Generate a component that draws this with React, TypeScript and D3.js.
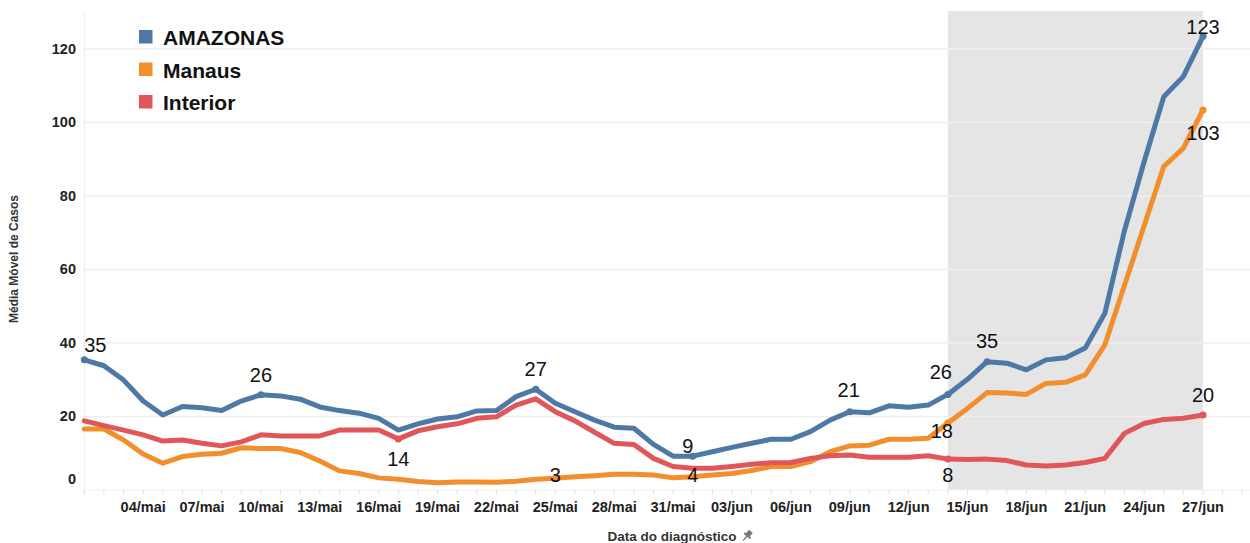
import React from 'react';
import * as d3 from 'd3';

// daily moving average, 01/mai .. 27/jun
const startDate = new Date(Date.UTC(2020, 4, 1));
const monthNames = ['jan', 'fev', 'mar', 'abr', 'mai', 'jun', 'jul', 'ago', 'set', 'out', 'nov', 'dez'];

const amazonas = [
  35.4, 33.8, 29.9, 24.2, 20.4, 22.7, 22.4, 21.6, 24.2, 25.9,
  25.6, 24.7, 22.6, 21.6, 20.9, 19.5, 16.3, 18.0, 19.3, 19.9,
  21.5, 21.6, 25.4, 27.4, 23.6, 21.3, 19.0, 17.1, 16.8, 12.4,
  9.2, 9.2, 10.4, 11.6, 12.7, 13.8, 13.8, 15.9, 19.0, 21.3,
  21.0, 22.9, 22.5, 23.1, 26.0, 30.1, 34.9, 34.5, 32.7, 35.4,
  36.0, 38.6, 48.1, 70.6, 89.3, 107.0, 112.5, 123.4,
];
const manaus = [
  16.6, 16.6, 13.6, 9.8, 7.3, 9.1, 9.7, 10.0, 11.5, 11.3,
  11.3, 10.2, 7.9, 5.2, 4.5, 3.3, 2.9, 2.3, 2.0, 2.2,
  2.2, 2.1, 2.4, 2.9, 3.2, 3.6, 3.9, 4.3, 4.3, 4.1,
  3.3, 3.6, 4.1, 4.5, 5.3, 6.4, 6.4, 7.7, 10.4, 12.0,
  12.2, 13.8, 13.8, 14.1, 18.2, 22.2, 26.5, 26.4, 26.0, 29.0,
  29.3, 31.3, 39.5, 55.7, 71.9, 88.0, 93.0, 103.4,
];
const interior = [
  18.8, 17.5, 16.3, 15.0, 13.3, 13.6, 12.7, 12.0, 13.1, 15.0,
  14.7, 14.7, 14.7, 16.3, 16.3, 16.3, 13.9, 16.1, 17.2, 18.0,
  19.5, 19.9, 23.1, 24.8, 21.3, 18.8, 15.7, 12.7, 12.4, 8.6,
  6.4, 5.9, 5.9, 6.4, 7.0, 7.4, 7.5, 8.6, 9.3, 9.5,
  8.9, 8.9, 8.9, 9.3, 8.4, 8.3, 8.4, 8.0, 6.8, 6.5,
  6.8, 7.5, 8.6, 15.4, 18.1, 19.2, 19.5, 20.4,
];

const series = [
  { name: 'AMAZONAS', values: amazonas, color: '#4e79a7' },
  { name: 'Manaus', values: manaus, color: '#f28e2b' },
  { name: 'Interior', values: interior, color: '#e15759' },
];

// labelled points: series index, day index, label offset
const annotations = [
  { s: 0, d: 0, dx: 11, dy: -15 },
  { s: 0, d: 9, dx: 0, dy: -20 },
  { s: 0, d: 23, dx: 0, dy: -20 },
  { s: 0, d: 31, dx: -5, dy: -10.5 },
  { s: 0, d: 39, dx: -1, dy: -21.5 },
  { s: 0, d: 44, dx: -7, dy: -22 },
  { s: 0, d: 46, dx: 0, dy: -21 },
  { s: 0, d: 57, dx: 0, dy: -9.5 },
  { s: 1, d: 24, dx: 0, dy: -3 },
  { s: 1, d: 31, dx: 0, dy: -1.5 },
  { s: 1, d: 44, dx: -6, dy: 8 },
  { s: 1, d: 57, dx: 0, dy: 23.5 },
  { s: 2, d: 16, dx: 0, dy: 20.5 },
  { s: 2, d: 44, dx: 0, dy: 15.5 },
  { s: 2, d: 57, dx: 0, dy: -20.5 },
];

const yTicks = [0, 20, 40, 60, 80, 100, 120];
const highlightFrom = 44; // 14/jun

const width = 1250;
const height = 543;
const plot = { left: 84.3, top: 11, bottom: 490, right: 1250 };
const font = '"Liberation Sans", Arial, sans-serif';

export default function App() {
  const dates = amazonas.map((_, i) => d3.utcDay.offset(startDate, i));
  const lastDate = dates[dates.length - 1];

  const x = d3.scaleUtc()
    .domain([startDate, lastDate])
    .range([plot.left, 1203]);
  const y = d3.scaleLinear()
    .domain([0, 130.3])
    .range([plot.bottom, plot.top]);

  const line = d3.line<number>()
    .x((_, i) => x(dates[i]))
    .y(d => y(d));

  const dayTicks = d3.utcDay.range(startDate, d3.utcDay.offset(startDate, 62))
    .filter(d => x(d) <= plot.right);
  const labelTicks = d3.utcDay.range(d3.utcDay.offset(startDate, 3), d3.utcDay.offset(lastDate, 1), 3);
  const fmt = (d: Date) => `${d3.utcFormat('%d')(d)}/${monthNames[d.getUTCMonth()]}`;

  return (
    <svg width={width} height={height} style={{ position: 'absolute', left: 0, top: 0, background: '#fff' }}>
      {/* highlight band */}
      <rect
        x={x(dates[highlightFrom])}
        y={plot.top}
        width={x(lastDate) - x(dates[highlightFrom])}
        height={plot.bottom - plot.top}
        fill="#e5e5e5"
      />

      {/* grid */}
      {yTicks.filter(t => t > 0).map(t => (
        <line key={t} x1={plot.left} x2={plot.right} y1={y(t)} y2={y(t)} stroke="#efefef" strokeWidth={1.5} />
      ))}
      <line x1={plot.left} x2={plot.left} y1={plot.top} y2={plot.bottom + 4} stroke="#ececec" />
      <line x1={plot.left} x2={plot.right} y1={plot.bottom} y2={plot.bottom} stroke="#f2f2f2" />
      {dayTicks.map(d => (
        <line key={+d} x1={x(d)} x2={x(d)} y1={plot.bottom} y2={plot.bottom + 5} stroke="#e3e3e3" />
      ))}

      {/* y axis */}
      {yTicks.map(t => (
        <text key={t} x={76} y={Math.min(y(t), plot.bottom - 11)} textAnchor="end" dominantBaseline="central"
          fontFamily={font} fontWeight="bold" fontSize={14.5} fill="#222">{t}</text>
      ))}
      <text transform={`translate(18,259) rotate(-90)`} textAnchor="middle" fontFamily={font}
        fontWeight="bold" fontSize={12} fill="#333">Média Móvel de Casos</text>

      {/* x axis */}
      {labelTicks.map(d => (
        <text key={+d} x={x(d)} y={507} textAnchor="middle" dominantBaseline="central"
          fontFamily={font} fontWeight="bold" fontSize={14.5} fill="#222">{fmt(d)}</text>
      ))}
      <text x={672} y={541} textAnchor="middle" fontFamily={font} fontWeight="bold" fontSize={13.5} fill="#333">
        Data do diagnóstico
      </text>
      <g transform="translate(747,536) rotate(40)" fill="#777" stroke="#777">
        <rect x={-2.5} y={-6} width={5} height={5} stroke="none" />
        <rect x={-4} y={-1.5} width={8} height={2} stroke="none" />
        <line x1={0} x2={0} y1={0} y2={6} strokeWidth={1.2} />
      </g>

      {/* lines */}
      {series.map(s => (
        <path key={s.name} d={line(s.values) || ''} fill="none" stroke={s.color} strokeWidth={5}
          strokeLinejoin="round" strokeLinecap="round" />
      ))}

      {/* labels */}
      {annotations.map((a, i) => {
        const s = series[a.s];
        const px = x(dates[a.d]);
        const py = y(s.values[a.d]);
        return (
          <g key={i}>
            <circle cx={px} cy={py} r={3.5} fill={s.color} />
            <text x={px + a.dx} y={py + a.dy} textAnchor="middle" dominantBaseline="central"
              fontFamily={font} fontSize={20} fill="#111">{Math.round(s.values[a.d])}</text>
          </g>
        );
      })}

      {/* legend */}
      {series.map((s, i) => (
        <g key={s.name} transform={`translate(139,${30 + i * 32.5})`}>
          <rect width={13.5} height={13.5} fill={s.color} />
          <text x={24} y={15} fontFamily={font} fontWeight="bold" fontSize={21} fill="#111">{s.name}</text>
        </g>
      ))}
    </svg>
  );
}
